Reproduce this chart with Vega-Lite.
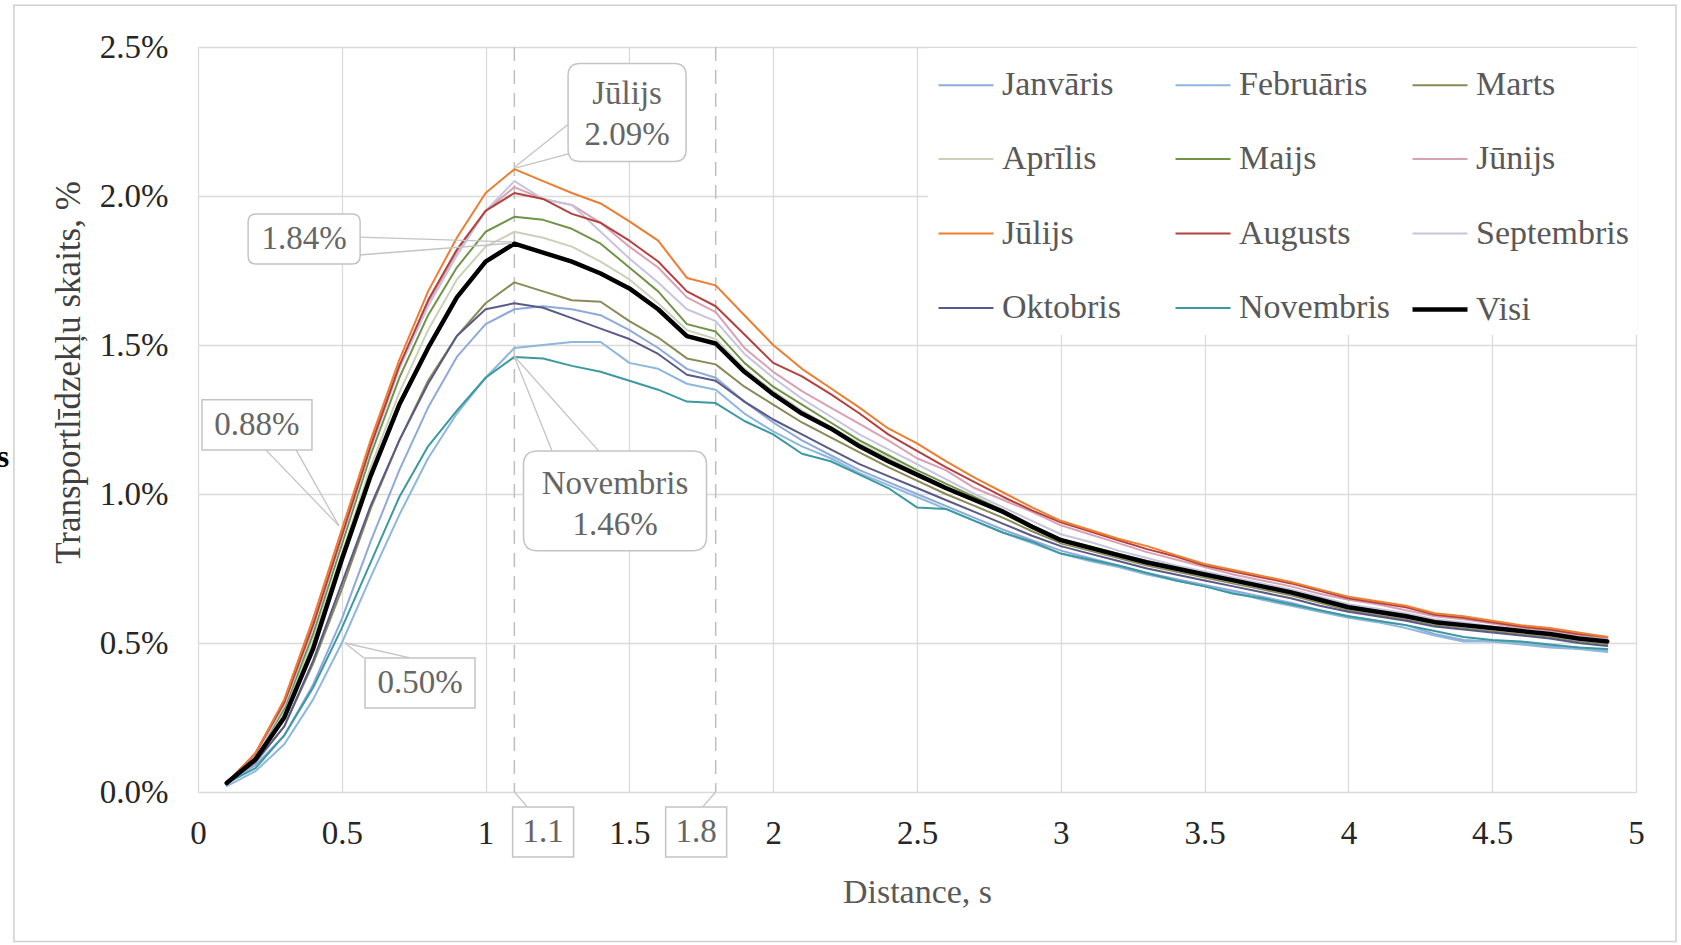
{
"$schema": "https://vega.github.io/schema/vega-lite/v6.json",
"width": 1438, "height": 745,
"autosize": {"type": "none"},
"padding": {"left": 198, "top": 47, "right": 45, "bottom": 153},
"background": "white",
"config": {
  "view": {"stroke": null},
  "font": "Liberation Serif",
  "axis": {"gridColor": "#dadada", "gridWidth": 1.3, "domain": false, "ticks": false, "labelFont": "Liberation Serif", "labelFontSize": 33, "labelColor": "#262626", "titleFont": "Liberation Serif", "titleFontSize": 34, "titleFontWeight": "normal", "titleColor": "#404040", "labelOverlap": false, "labelFlush": false},
  "legend": {"orient": "none", "legendX": 730, "legendY": 1, "columns": 3, "direction": "horizontal", "gridAlign": "all", "columnPadding": 11, "rowPadding": 27.5, "padding": 8, "fillColor": "white", "labelFont": "Liberation Serif", "labelFontSize": 34, "labelColor": "#595959", "symbolType": "stroke", "symbolSize": 3025, "labelOffset": 6, "labelLimit": 0}
},
"layer": [
  {
    "data": {"values": [{"x": -0.64, "x2": 5.139, "y": 2.64, "y2": -0.502}]},
    "mark": {"type": "rect", "fill": "white", "fillOpacity": 0, "stroke": "#cfcfcf", "strokeWidth": 1.5, "clip": false},
    "encoding": {"x": {"field": "x", "type": "quantitative"}, "x2": {"field": "x2"}, "y": {"field": "y", "type": "quantitative"}, "y2": {"field": "y2"}}
  },
  {
    "data": {"values": [{"x": 1.1}, {"x": 1.8}]},
    "mark": {"type": "rule", "stroke": "#bfbfbf", "strokeWidth": 1.5, "strokeDash": [14, 9]},
    "encoding": {"x": {"field": "x", "type": "quantitative"}}
  },
  {
    "data": {"values": [
{"m":"Janvāris","x":0.1,"y":0.03},{"m":"Janvāris","x":0.2,"y":0.09},{"m":"Janvāris","x":0.3,"y":0.19},{"m":"Janvāris","x":0.4,"y":0.36},{"m":"Janvāris","x":0.5,"y":0.58},{"m":"Janvāris","x":0.6,"y":0.84},{"m":"Janvāris","x":0.7,"y":1.08},{"m":"Janvāris","x":0.8,"y":1.29},{"m":"Janvāris","x":0.9,"y":1.46},{"m":"Janvāris","x":1.0,"y":1.57},
{"m":"Janvāris","x":1.1,"y":1.62},{"m":"Janvāris","x":1.2,"y":1.63},{"m":"Janvāris","x":1.3,"y":1.62},{"m":"Janvāris","x":1.4,"y":1.60},{"m":"Janvāris","x":1.5,"y":1.55},{"m":"Janvāris","x":1.6,"y":1.49},{"m":"Janvāris","x":1.7,"y":1.42},{"m":"Janvāris","x":1.8,"y":1.39},{"m":"Janvāris","x":1.9,"y":1.31},{"m":"Janvāris","x":2.0,"y":1.24},
{"m":"Janvāris","x":2.1,"y":1.18},{"m":"Janvāris","x":2.2,"y":1.13},{"m":"Janvāris","x":2.3,"y":1.08},{"m":"Janvāris","x":2.4,"y":1.04},{"m":"Janvāris","x":2.5,"y":1.00},{"m":"Janvāris","x":2.6,"y":0.96},{"m":"Janvāris","x":2.7,"y":0.92},{"m":"Janvāris","x":2.8,"y":0.88},{"m":"Janvāris","x":2.9,"y":0.845},{"m":"Janvāris","x":3.0,"y":0.81},
{"m":"Janvāris","x":3.1,"y":0.785},{"m":"Janvāris","x":3.2,"y":0.76},{"m":"Janvāris","x":3.3,"y":0.735},{"m":"Janvāris","x":3.4,"y":0.715},{"m":"Janvāris","x":3.5,"y":0.695},{"m":"Janvāris","x":3.6,"y":0.675},{"m":"Janvāris","x":3.7,"y":0.655},{"m":"Janvāris","x":3.8,"y":0.635},{"m":"Janvāris","x":3.9,"y":0.61},{"m":"Janvāris","x":4.0,"y":0.59},
{"m":"Janvāris","x":4.1,"y":0.575},{"m":"Janvāris","x":4.2,"y":0.56},{"m":"Janvāris","x":4.3,"y":0.53},{"m":"Janvāris","x":4.4,"y":0.51},{"m":"Janvāris","x":4.5,"y":0.505},{"m":"Janvāris","x":4.6,"y":0.50},{"m":"Janvāris","x":4.7,"y":0.49},{"m":"Janvāris","x":4.8,"y":0.485},{"m":"Janvāris","x":4.9,"y":0.475},
{"m":"Februāris","x":0.1,"y":0.02},{"m":"Februāris","x":0.2,"y":0.07},{"m":"Februāris","x":0.3,"y":0.16},{"m":"Februāris","x":0.4,"y":0.31},{"m":"Februāris","x":0.5,"y":0.50},{"m":"Februāris","x":0.6,"y":0.72},{"m":"Februāris","x":0.7,"y":0.93},{"m":"Februāris","x":0.8,"y":1.12},{"m":"Februāris","x":0.9,"y":1.27},{"m":"Februāris","x":1.0,"y":1.39},
{"m":"Februāris","x":1.1,"y":1.49},{"m":"Februāris","x":1.2,"y":1.50},{"m":"Februāris","x":1.3,"y":1.51},{"m":"Februāris","x":1.4,"y":1.51},{"m":"Februāris","x":1.5,"y":1.44},{"m":"Februāris","x":1.6,"y":1.42},{"m":"Februāris","x":1.7,"y":1.37},{"m":"Februāris","x":1.8,"y":1.35},{"m":"Februāris","x":1.9,"y":1.27},{"m":"Februāris","x":2.0,"y":1.21},
{"m":"Februāris","x":2.1,"y":1.16},{"m":"Februāris","x":2.2,"y":1.12},{"m":"Februāris","x":2.3,"y":1.07},{"m":"Februāris","x":2.4,"y":1.03},{"m":"Februāris","x":2.5,"y":0.99},{"m":"Februāris","x":2.6,"y":0.95},{"m":"Februāris","x":2.7,"y":0.91},{"m":"Februāris","x":2.8,"y":0.87},{"m":"Februāris","x":2.9,"y":0.835},{"m":"Februāris","x":3.0,"y":0.80},
{"m":"Februāris","x":3.1,"y":0.775},{"m":"Februāris","x":3.2,"y":0.755},{"m":"Februāris","x":3.3,"y":0.73},{"m":"Februāris","x":3.4,"y":0.71},{"m":"Februāris","x":3.5,"y":0.69},{"m":"Februāris","x":3.6,"y":0.67},{"m":"Februāris","x":3.7,"y":0.645},{"m":"Februāris","x":3.8,"y":0.625},{"m":"Februāris","x":3.9,"y":0.605},{"m":"Februāris","x":4.0,"y":0.585},
{"m":"Februāris","x":4.1,"y":0.57},{"m":"Februāris","x":4.2,"y":0.55},{"m":"Februāris","x":4.3,"y":0.525},{"m":"Februāris","x":4.4,"y":0.505},{"m":"Februāris","x":4.5,"y":0.505},{"m":"Februāris","x":4.6,"y":0.495},{"m":"Februāris","x":4.7,"y":0.485},{"m":"Februāris","x":4.8,"y":0.48},{"m":"Februāris","x":4.9,"y":0.47},
{"m":"Marts","x":0.1,"y":0.03},{"m":"Marts","x":0.2,"y":0.10},{"m":"Marts","x":0.3,"y":0.22},{"m":"Marts","x":0.4,"y":0.43},{"m":"Marts","x":0.5,"y":0.68},{"m":"Marts","x":0.6,"y":0.95},{"m":"Marts","x":0.7,"y":1.18},{"m":"Marts","x":0.8,"y":1.38},{"m":"Marts","x":0.9,"y":1.53},{"m":"Marts","x":1.0,"y":1.64},
{"m":"Marts","x":1.1,"y":1.71},{"m":"Marts","x":1.2,"y":1.68},{"m":"Marts","x":1.3,"y":1.65},{"m":"Marts","x":1.4,"y":1.645},{"m":"Marts","x":1.5,"y":1.58},{"m":"Marts","x":1.6,"y":1.525},{"m":"Marts","x":1.7,"y":1.455},{"m":"Marts","x":1.8,"y":1.435},{"m":"Marts","x":1.9,"y":1.36},{"m":"Marts","x":2.0,"y":1.30},
{"m":"Marts","x":2.1,"y":1.24},{"m":"Marts","x":2.2,"y":1.19},{"m":"Marts","x":2.3,"y":1.14},{"m":"Marts","x":2.4,"y":1.09},{"m":"Marts","x":2.5,"y":1.045},{"m":"Marts","x":2.6,"y":1.00},{"m":"Marts","x":2.7,"y":0.96},{"m":"Marts","x":2.8,"y":0.92},{"m":"Marts","x":2.9,"y":0.875},{"m":"Marts","x":3.0,"y":0.835},
{"m":"Marts","x":3.1,"y":0.81},{"m":"Marts","x":3.2,"y":0.785},{"m":"Marts","x":3.3,"y":0.76},{"m":"Marts","x":3.4,"y":0.74},{"m":"Marts","x":3.5,"y":0.72},{"m":"Marts","x":3.6,"y":0.70},{"m":"Marts","x":3.7,"y":0.68},{"m":"Marts","x":3.8,"y":0.66},{"m":"Marts","x":3.9,"y":0.635},{"m":"Marts","x":4.0,"y":0.61},
{"m":"Marts","x":4.1,"y":0.595},{"m":"Marts","x":4.2,"y":0.58},{"m":"Marts","x":4.3,"y":0.56},{"m":"Marts","x":4.4,"y":0.55},{"m":"Marts","x":4.5,"y":0.54},{"m":"Marts","x":4.6,"y":0.53},{"m":"Marts","x":4.7,"y":0.52},{"m":"Marts","x":4.8,"y":0.505},{"m":"Marts","x":4.9,"y":0.495},
{"m":"Aprīlis","x":0.1,"y":0.03},{"m":"Aprīlis","x":0.2,"y":0.12},{"m":"Aprīlis","x":0.3,"y":0.27},{"m":"Aprīlis","x":0.4,"y":0.51},{"m":"Aprīlis","x":0.5,"y":0.80},{"m":"Aprīlis","x":0.6,"y":1.09},{"m":"Aprīlis","x":0.7,"y":1.34},{"m":"Aprīlis","x":0.8,"y":1.55},{"m":"Aprīlis","x":0.9,"y":1.72},{"m":"Aprīlis","x":1.0,"y":1.83},
{"m":"Aprīlis","x":1.1,"y":1.88},{"m":"Aprīlis","x":1.2,"y":1.86},{"m":"Aprīlis","x":1.3,"y":1.83},{"m":"Aprīlis","x":1.4,"y":1.78},{"m":"Aprīlis","x":1.5,"y":1.72},{"m":"Aprīlis","x":1.6,"y":1.64},{"m":"Aprīlis","x":1.7,"y":1.55},{"m":"Aprīlis","x":1.8,"y":1.52},{"m":"Aprīlis","x":1.9,"y":1.42},{"m":"Aprīlis","x":2.0,"y":1.345},
{"m":"Aprīlis","x":2.1,"y":1.28},{"m":"Aprīlis","x":2.2,"y":1.225},{"m":"Aprīlis","x":2.3,"y":1.17},{"m":"Aprīlis","x":2.4,"y":1.12},{"m":"Aprīlis","x":2.5,"y":1.07},{"m":"Aprīlis","x":2.6,"y":1.025},{"m":"Aprīlis","x":2.7,"y":0.98},{"m":"Aprīlis","x":2.8,"y":0.935},{"m":"Aprīlis","x":2.9,"y":0.885},{"m":"Aprīlis","x":3.0,"y":0.84},
{"m":"Aprīlis","x":3.1,"y":0.815},{"m":"Aprīlis","x":3.2,"y":0.79},{"m":"Aprīlis","x":3.3,"y":0.765},{"m":"Aprīlis","x":3.4,"y":0.745},{"m":"Aprīlis","x":3.5,"y":0.725},{"m":"Aprīlis","x":3.6,"y":0.705},{"m":"Aprīlis","x":3.7,"y":0.685},{"m":"Aprīlis","x":3.8,"y":0.665},{"m":"Aprīlis","x":3.9,"y":0.64},{"m":"Aprīlis","x":4.0,"y":0.615},
{"m":"Aprīlis","x":4.1,"y":0.60},{"m":"Aprīlis","x":4.2,"y":0.585},{"m":"Aprīlis","x":4.3,"y":0.565},{"m":"Aprīlis","x":4.4,"y":0.555},{"m":"Aprīlis","x":4.5,"y":0.545},{"m":"Aprīlis","x":4.6,"y":0.535},{"m":"Aprīlis","x":4.7,"y":0.525},{"m":"Aprīlis","x":4.8,"y":0.51},{"m":"Aprīlis","x":4.9,"y":0.50},
{"m":"Maijs","x":0.1,"y":0.03},{"m":"Maijs","x":0.2,"y":0.12},{"m":"Maijs","x":0.3,"y":0.28},{"m":"Maijs","x":0.4,"y":0.53},{"m":"Maijs","x":0.5,"y":0.83},{"m":"Maijs","x":0.6,"y":1.13},{"m":"Maijs","x":0.7,"y":1.39},{"m":"Maijs","x":0.8,"y":1.60},{"m":"Maijs","x":0.9,"y":1.76},{"m":"Maijs","x":1.0,"y":1.88},
{"m":"Maijs","x":1.1,"y":1.93},{"m":"Maijs","x":1.2,"y":1.92},{"m":"Maijs","x":1.3,"y":1.89},{"m":"Maijs","x":1.4,"y":1.84},{"m":"Maijs","x":1.5,"y":1.76},{"m":"Maijs","x":1.6,"y":1.68},{"m":"Maijs","x":1.7,"y":1.57},{"m":"Maijs","x":1.8,"y":1.545},{"m":"Maijs","x":1.9,"y":1.44},{"m":"Maijs","x":2.0,"y":1.36},
{"m":"Maijs","x":2.1,"y":1.30},{"m":"Maijs","x":2.2,"y":1.24},{"m":"Maijs","x":2.3,"y":1.18},{"m":"Maijs","x":2.4,"y":1.13},{"m":"Maijs","x":2.5,"y":1.08},{"m":"Maijs","x":2.6,"y":1.035},{"m":"Maijs","x":2.7,"y":0.99},{"m":"Maijs","x":2.8,"y":0.945},{"m":"Maijs","x":2.9,"y":0.895},{"m":"Maijs","x":3.0,"y":0.85},
{"m":"Maijs","x":3.1,"y":0.825},{"m":"Maijs","x":3.2,"y":0.80},{"m":"Maijs","x":3.3,"y":0.775},{"m":"Maijs","x":3.4,"y":0.755},{"m":"Maijs","x":3.5,"y":0.735},{"m":"Maijs","x":3.6,"y":0.715},{"m":"Maijs","x":3.7,"y":0.695},{"m":"Maijs","x":3.8,"y":0.675},{"m":"Maijs","x":3.9,"y":0.65},{"m":"Maijs","x":4.0,"y":0.625},
{"m":"Maijs","x":4.1,"y":0.61},{"m":"Maijs","x":4.2,"y":0.595},{"m":"Maijs","x":4.3,"y":0.575},{"m":"Maijs","x":4.4,"y":0.565},{"m":"Maijs","x":4.5,"y":0.55},{"m":"Maijs","x":4.6,"y":0.54},{"m":"Maijs","x":4.7,"y":0.53},{"m":"Maijs","x":4.8,"y":0.515},{"m":"Maijs","x":4.9,"y":0.505},
{"m":"Jūnijs","x":0.1,"y":0.03},{"m":"Jūnijs","x":0.2,"y":0.13},{"m":"Jūnijs","x":0.3,"y":0.31},{"m":"Jūnijs","x":0.4,"y":0.58},{"m":"Jūnijs","x":0.5,"y":0.88},{"m":"Jūnijs","x":0.6,"y":1.17},{"m":"Jūnijs","x":0.7,"y":1.43},{"m":"Jūnijs","x":0.8,"y":1.64},{"m":"Jūnijs","x":0.9,"y":1.81},{"m":"Jūnijs","x":1.0,"y":1.95},
{"m":"Jūnijs","x":1.1,"y":2.03},{"m":"Jūnijs","x":1.2,"y":1.99},{"m":"Jūnijs","x":1.3,"y":1.97},{"m":"Jūnijs","x":1.4,"y":1.91},{"m":"Jūnijs","x":1.5,"y":1.83},{"m":"Jūnijs","x":1.6,"y":1.76},{"m":"Jūnijs","x":1.7,"y":1.66},{"m":"Jūnijs","x":1.8,"y":1.61},{"m":"Jūnijs","x":1.9,"y":1.49},{"m":"Jūnijs","x":2.0,"y":1.41},
{"m":"Jūnijs","x":2.1,"y":1.345},{"m":"Jūnijs","x":2.2,"y":1.29},{"m":"Jūnijs","x":2.3,"y":1.235},{"m":"Jūnijs","x":2.4,"y":1.18},{"m":"Jūnijs","x":2.5,"y":1.12},{"m":"Jūnijs","x":2.6,"y":1.08},{"m":"Jūnijs","x":2.7,"y":1.02},{"m":"Jūnijs","x":2.8,"y":0.98},{"m":"Jūnijs","x":2.9,"y":0.94},{"m":"Jūnijs","x":3.0,"y":0.895},
{"m":"Jūnijs","x":3.1,"y":0.865},{"m":"Jūnijs","x":3.2,"y":0.835},{"m":"Jūnijs","x":3.3,"y":0.805},{"m":"Jūnijs","x":3.4,"y":0.78},{"m":"Jūnijs","x":3.5,"y":0.755},{"m":"Jūnijs","x":3.6,"y":0.73},{"m":"Jūnijs","x":3.7,"y":0.71},{"m":"Jūnijs","x":3.8,"y":0.69},{"m":"Jūnijs","x":3.9,"y":0.665},{"m":"Jūnijs","x":4.0,"y":0.645},
{"m":"Jūnijs","x":4.1,"y":0.63},{"m":"Jūnijs","x":4.2,"y":0.61},{"m":"Jūnijs","x":4.3,"y":0.59},{"m":"Jūnijs","x":4.4,"y":0.58},{"m":"Jūnijs","x":4.5,"y":0.565},{"m":"Jūnijs","x":4.6,"y":0.55},{"m":"Jūnijs","x":4.7,"y":0.54},{"m":"Jūnijs","x":4.8,"y":0.525},{"m":"Jūnijs","x":4.9,"y":0.515},
{"m":"Septembris","x":0.1,"y":0.03},{"m":"Septembris","x":0.2,"y":0.12},{"m":"Septembris","x":0.3,"y":0.29},{"m":"Septembris","x":0.4,"y":0.55},{"m":"Septembris","x":0.5,"y":0.85},{"m":"Septembris","x":0.6,"y":1.15},{"m":"Septembris","x":0.7,"y":1.42},{"m":"Septembris","x":0.8,"y":1.63},{"m":"Septembris","x":0.9,"y":1.80},{"m":"Septembris","x":1.0,"y":1.95},
{"m":"Septembris","x":1.1,"y":2.05},{"m":"Septembris","x":1.2,"y":1.99},{"m":"Septembris","x":1.3,"y":1.97},{"m":"Septembris","x":1.4,"y":1.88},{"m":"Septembris","x":1.5,"y":1.79},{"m":"Septembris","x":1.6,"y":1.71},{"m":"Septembris","x":1.7,"y":1.62},{"m":"Septembris","x":1.8,"y":1.58},{"m":"Septembris","x":1.9,"y":1.47},{"m":"Septembris","x":2.0,"y":1.39},
{"m":"Septembris","x":2.1,"y":1.32},{"m":"Septembris","x":2.2,"y":1.26},{"m":"Septembris","x":2.3,"y":1.20},{"m":"Septembris","x":2.4,"y":1.15},{"m":"Septembris","x":2.5,"y":1.10},{"m":"Septembris","x":2.6,"y":1.05},{"m":"Septembris","x":2.7,"y":1.00},{"m":"Septembris","x":2.8,"y":0.955},{"m":"Septembris","x":2.9,"y":0.91},{"m":"Septembris","x":3.0,"y":0.865},
{"m":"Septembris","x":3.1,"y":0.84},{"m":"Septembris","x":3.2,"y":0.81},{"m":"Septembris","x":3.3,"y":0.785},{"m":"Septembris","x":3.4,"y":0.76},{"m":"Septembris","x":3.5,"y":0.74},{"m":"Septembris","x":3.6,"y":0.72},{"m":"Septembris","x":3.7,"y":0.70},{"m":"Septembris","x":3.8,"y":0.68},{"m":"Septembris","x":3.9,"y":0.655},{"m":"Septembris","x":4.0,"y":0.63},
{"m":"Septembris","x":4.1,"y":0.615},{"m":"Septembris","x":4.2,"y":0.60},{"m":"Septembris","x":4.3,"y":0.58},{"m":"Septembris","x":4.4,"y":0.57},{"m":"Septembris","x":4.5,"y":0.555},{"m":"Septembris","x":4.6,"y":0.545},{"m":"Septembris","x":4.7,"y":0.535},{"m":"Septembris","x":4.8,"y":0.52},{"m":"Septembris","x":4.9,"y":0.51},
{"m":"Oktobris","x":0.1,"y":0.03},{"m":"Oktobris","x":0.2,"y":0.10},{"m":"Oktobris","x":0.3,"y":0.22},{"m":"Oktobris","x":0.4,"y":0.44},{"m":"Oktobris","x":0.5,"y":0.70},{"m":"Oktobris","x":0.6,"y":0.96},{"m":"Oktobris","x":0.7,"y":1.18},{"m":"Oktobris","x":0.8,"y":1.37},{"m":"Oktobris","x":0.9,"y":1.53},{"m":"Oktobris","x":1.0,"y":1.62},
{"m":"Oktobris","x":1.1,"y":1.64},{"m":"Oktobris","x":1.2,"y":1.625},{"m":"Oktobris","x":1.3,"y":1.59},{"m":"Oktobris","x":1.4,"y":1.555},{"m":"Oktobris","x":1.5,"y":1.52},{"m":"Oktobris","x":1.6,"y":1.47},{"m":"Oktobris","x":1.7,"y":1.40},{"m":"Oktobris","x":1.8,"y":1.38},{"m":"Oktobris","x":1.9,"y":1.31},{"m":"Oktobris","x":2.0,"y":1.25},
{"m":"Oktobris","x":2.1,"y":1.20},{"m":"Oktobris","x":2.2,"y":1.15},{"m":"Oktobris","x":2.3,"y":1.10},{"m":"Oktobris","x":2.4,"y":1.06},{"m":"Oktobris","x":2.5,"y":1.02},{"m":"Oktobris","x":2.6,"y":0.98},{"m":"Oktobris","x":2.7,"y":0.94},{"m":"Oktobris","x":2.8,"y":0.90},{"m":"Oktobris","x":2.9,"y":0.86},{"m":"Oktobris","x":3.0,"y":0.825},
{"m":"Oktobris","x":3.1,"y":0.80},{"m":"Oktobris","x":3.2,"y":0.775},{"m":"Oktobris","x":3.3,"y":0.75},{"m":"Oktobris","x":3.4,"y":0.73},{"m":"Oktobris","x":3.5,"y":0.71},{"m":"Oktobris","x":3.6,"y":0.69},{"m":"Oktobris","x":3.7,"y":0.67},{"m":"Oktobris","x":3.8,"y":0.65},{"m":"Oktobris","x":3.9,"y":0.625},{"m":"Oktobris","x":4.0,"y":0.605},
{"m":"Oktobris","x":4.1,"y":0.59},{"m":"Oktobris","x":4.2,"y":0.575},{"m":"Oktobris","x":4.3,"y":0.555},{"m":"Oktobris","x":4.4,"y":0.545},{"m":"Oktobris","x":4.5,"y":0.535},{"m":"Oktobris","x":4.6,"y":0.525},{"m":"Oktobris","x":4.7,"y":0.515},{"m":"Oktobris","x":4.8,"y":0.50},{"m":"Oktobris","x":4.9,"y":0.49},
{"m":"Novembris","x":0.1,"y":0.03},{"m":"Novembris","x":0.2,"y":0.08},{"m":"Novembris","x":0.3,"y":0.19},{"m":"Novembris","x":0.4,"y":0.35},{"m":"Novembris","x":0.5,"y":0.55},{"m":"Novembris","x":0.6,"y":0.77},{"m":"Novembris","x":0.7,"y":0.99},{"m":"Novembris","x":0.8,"y":1.16},{"m":"Novembris","x":0.9,"y":1.28},{"m":"Novembris","x":1.0,"y":1.39},
{"m":"Novembris","x":1.1,"y":1.46},{"m":"Novembris","x":1.2,"y":1.455},{"m":"Novembris","x":1.3,"y":1.43},{"m":"Novembris","x":1.4,"y":1.41},{"m":"Novembris","x":1.5,"y":1.38},{"m":"Novembris","x":1.6,"y":1.35},{"m":"Novembris","x":1.7,"y":1.31},{"m":"Novembris","x":1.8,"y":1.305},{"m":"Novembris","x":1.9,"y":1.245},{"m":"Novembris","x":2.0,"y":1.20},
{"m":"Novembris","x":2.1,"y":1.135},{"m":"Novembris","x":2.2,"y":1.11},{"m":"Novembris","x":2.3,"y":1.065},{"m":"Novembris","x":2.4,"y":1.02},{"m":"Novembris","x":2.5,"y":0.955},{"m":"Novembris","x":2.6,"y":0.95},{"m":"Novembris","x":2.7,"y":0.91},{"m":"Novembris","x":2.8,"y":0.87},{"m":"Novembris","x":2.9,"y":0.84},{"m":"Novembris","x":3.0,"y":0.80},
{"m":"Novembris","x":3.1,"y":0.78},{"m":"Novembris","x":3.2,"y":0.76},{"m":"Novembris","x":3.3,"y":0.735},{"m":"Novembris","x":3.4,"y":0.71},{"m":"Novembris","x":3.5,"y":0.69},{"m":"Novembris","x":3.6,"y":0.665},{"m":"Novembris","x":3.7,"y":0.65},{"m":"Novembris","x":3.8,"y":0.63},{"m":"Novembris","x":3.9,"y":0.61},{"m":"Novembris","x":4.0,"y":0.59},
{"m":"Novembris","x":4.1,"y":0.575},{"m":"Novembris","x":4.2,"y":0.56},{"m":"Novembris","x":4.3,"y":0.54},{"m":"Novembris","x":4.4,"y":0.52},{"m":"Novembris","x":4.5,"y":0.51},{"m":"Novembris","x":4.6,"y":0.505},{"m":"Novembris","x":4.7,"y":0.495},{"m":"Novembris","x":4.8,"y":0.485},{"m":"Novembris","x":4.9,"y":0.48},
{"m":"Augusts","x":0.1,"y":0.03},{"m":"Augusts","x":0.2,"y":0.13},{"m":"Augusts","x":0.3,"y":0.30},{"m":"Augusts","x":0.4,"y":0.56},{"m":"Augusts","x":0.5,"y":0.86},{"m":"Augusts","x":0.6,"y":1.16},{"m":"Augusts","x":0.7,"y":1.43},{"m":"Augusts","x":0.8,"y":1.65},{"m":"Augusts","x":0.9,"y":1.82},{"m":"Augusts","x":1.0,"y":1.95},
{"m":"Augusts","x":1.1,"y":2.01},{"m":"Augusts","x":1.2,"y":1.99},{"m":"Augusts","x":1.3,"y":1.94},{"m":"Augusts","x":1.4,"y":1.91},{"m":"Augusts","x":1.5,"y":1.85},{"m":"Augusts","x":1.6,"y":1.78},{"m":"Augusts","x":1.7,"y":1.68},{"m":"Augusts","x":1.8,"y":1.63},{"m":"Augusts","x":1.9,"y":1.535},{"m":"Augusts","x":2.0,"y":1.44},
{"m":"Augusts","x":2.1,"y":1.395},{"m":"Augusts","x":2.2,"y":1.335},{"m":"Augusts","x":2.3,"y":1.27},{"m":"Augusts","x":2.4,"y":1.20},{"m":"Augusts","x":2.5,"y":1.145},{"m":"Augusts","x":2.6,"y":1.09},{"m":"Augusts","x":2.7,"y":1.04},{"m":"Augusts","x":2.8,"y":0.99},{"m":"Augusts","x":2.9,"y":0.945},{"m":"Augusts","x":3.0,"y":0.905},
{"m":"Augusts","x":3.1,"y":0.875},{"m":"Augusts","x":3.2,"y":0.845},{"m":"Augusts","x":3.3,"y":0.815},{"m":"Augusts","x":3.4,"y":0.79},{"m":"Augusts","x":3.5,"y":0.76},{"m":"Augusts","x":3.6,"y":0.74},{"m":"Augusts","x":3.7,"y":0.72},{"m":"Augusts","x":3.8,"y":0.70},{"m":"Augusts","x":3.9,"y":0.675},{"m":"Augusts","x":4.0,"y":0.65},
{"m":"Augusts","x":4.1,"y":0.635},{"m":"Augusts","x":4.2,"y":0.62},{"m":"Augusts","x":4.3,"y":0.595},{"m":"Augusts","x":4.4,"y":0.585},{"m":"Augusts","x":4.5,"y":0.57},{"m":"Augusts","x":4.6,"y":0.555},{"m":"Augusts","x":4.7,"y":0.545},{"m":"Augusts","x":4.8,"y":0.53},{"m":"Augusts","x":4.9,"y":0.52},
{"m":"Jūlijs","x":0.1,"y":0.03},{"m":"Jūlijs","x":0.2,"y":0.13},{"m":"Jūlijs","x":0.3,"y":0.31},{"m":"Jūlijs","x":0.4,"y":0.58},{"m":"Jūlijs","x":0.5,"y":0.88},{"m":"Jūlijs","x":0.6,"y":1.18},{"m":"Jūlijs","x":0.7,"y":1.45},{"m":"Jūlijs","x":0.8,"y":1.68},{"m":"Jūlijs","x":0.9,"y":1.86},{"m":"Jūlijs","x":1.0,"y":2.01},
{"m":"Jūlijs","x":1.1,"y":2.09},{"m":"Jūlijs","x":1.2,"y":2.05},{"m":"Jūlijs","x":1.3,"y":2.01},{"m":"Jūlijs","x":1.4,"y":1.975},{"m":"Jūlijs","x":1.5,"y":1.915},{"m":"Jūlijs","x":1.6,"y":1.85},{"m":"Jūlijs","x":1.7,"y":1.725},{"m":"Jūlijs","x":1.8,"y":1.70},{"m":"Jūlijs","x":1.9,"y":1.60},{"m":"Jūlijs","x":2.0,"y":1.50},
{"m":"Jūlijs","x":2.1,"y":1.42},{"m":"Jūlijs","x":2.2,"y":1.355},{"m":"Jūlijs","x":2.3,"y":1.29},{"m":"Jūlijs","x":2.4,"y":1.22},{"m":"Jūlijs","x":2.5,"y":1.17},{"m":"Jūlijs","x":2.6,"y":1.11},{"m":"Jūlijs","x":2.7,"y":1.055},{"m":"Jūlijs","x":2.8,"y":1.005},{"m":"Jūlijs","x":2.9,"y":0.955},{"m":"Jūlijs","x":3.0,"y":0.91},
{"m":"Jūlijs","x":3.1,"y":0.88},{"m":"Jūlijs","x":3.2,"y":0.85},{"m":"Jūlijs","x":3.3,"y":0.825},{"m":"Jūlijs","x":3.4,"y":0.795},{"m":"Jūlijs","x":3.5,"y":0.765},{"m":"Jūlijs","x":3.6,"y":0.745},{"m":"Jūlijs","x":3.7,"y":0.725},{"m":"Jūlijs","x":3.8,"y":0.705},{"m":"Jūlijs","x":3.9,"y":0.68},{"m":"Jūlijs","x":4.0,"y":0.655},
{"m":"Jūlijs","x":4.1,"y":0.64},{"m":"Jūlijs","x":4.2,"y":0.625},{"m":"Jūlijs","x":4.3,"y":0.60},{"m":"Jūlijs","x":4.4,"y":0.59},{"m":"Jūlijs","x":4.5,"y":0.575},{"m":"Jūlijs","x":4.6,"y":0.56},{"m":"Jūlijs","x":4.7,"y":0.55},{"m":"Jūlijs","x":4.8,"y":0.535},{"m":"Jūlijs","x":4.9,"y":0.52},
{"m":"Visi","x":0.1,"y":0.03},{"m":"Visi","x":0.2,"y":0.11},{"m":"Visi","x":0.3,"y":0.25},{"m":"Visi","x":0.4,"y":0.48},{"m":"Visi","x":0.5,"y":0.78},{"m":"Visi","x":0.6,"y":1.06},{"m":"Visi","x":0.7,"y":1.30},{"m":"Visi","x":0.8,"y":1.49},{"m":"Visi","x":0.9,"y":1.66},{"m":"Visi","x":1.0,"y":1.78},
{"m":"Visi","x":1.1,"y":1.84},{"m":"Visi","x":1.2,"y":1.81},{"m":"Visi","x":1.3,"y":1.78},{"m":"Visi","x":1.4,"y":1.74},{"m":"Visi","x":1.5,"y":1.69},{"m":"Visi","x":1.6,"y":1.62},{"m":"Visi","x":1.7,"y":1.53},{"m":"Visi","x":1.8,"y":1.505},{"m":"Visi","x":1.9,"y":1.41},{"m":"Visi","x":2.0,"y":1.335},
{"m":"Visi","x":2.1,"y":1.27},{"m":"Visi","x":2.2,"y":1.22},{"m":"Visi","x":2.3,"y":1.16},{"m":"Visi","x":2.4,"y":1.11},{"m":"Visi","x":2.5,"y":1.065},{"m":"Visi","x":2.6,"y":1.02},{"m":"Visi","x":2.7,"y":0.98},{"m":"Visi","x":2.8,"y":0.94},{"m":"Visi","x":2.9,"y":0.89},{"m":"Visi","x":3.0,"y":0.845},
{"m":"Visi","x":3.1,"y":0.82},{"m":"Visi","x":3.2,"y":0.795},{"m":"Visi","x":3.3,"y":0.77},{"m":"Visi","x":3.4,"y":0.75},{"m":"Visi","x":3.5,"y":0.73},{"m":"Visi","x":3.6,"y":0.71},{"m":"Visi","x":3.7,"y":0.69},{"m":"Visi","x":3.8,"y":0.67},{"m":"Visi","x":3.9,"y":0.645},{"m":"Visi","x":4.0,"y":0.62},
{"m":"Visi","x":4.1,"y":0.605},{"m":"Visi","x":4.2,"y":0.59},{"m":"Visi","x":4.3,"y":0.57},{"m":"Visi","x":4.4,"y":0.56},{"m":"Visi","x":4.5,"y":0.55},{"m":"Visi","x":4.6,"y":0.54},{"m":"Visi","x":4.7,"y":0.53},{"m":"Visi","x":4.8,"y":0.515},{"m":"Visi","x":4.9,"y":0.505}
    ]},
    "mark": {"type": "line", "strokeJoin": "round", "strokeCap": "round", "clip": true},
    "encoding": {
      "x": {"field": "x", "type": "quantitative", "scale": {"domain": [0, 5], "nice": false, "zero": false},
        "axis": {"values": [0, 0.5, 1, 1.5, 2, 2.5, 3, 3.5, 4, 4.5, 5], "format": "~g", "labelPadding": 25, "title": "Distance, s", "titlePadding": 25, "titleColor": "#595959"}},
      "y": {"field": "y", "type": "quantitative", "scale": {"domain": [0, 2.5], "nice": false},
        "axis": {"values": [0, 0.5, 1, 1.5, 2, 2.5], "labelExpr": "format(datum.value, '.1f') + '%'", "labelPadding": 30, "title": "Transportlīdzekļu skaits, %", "titleFontSize": 35, "titleX": -130, "titleY": 325, "titleAngle": 270, "titleBaseline": "middle", "titleAlign": "center", "titleAnchor": null}},
      "color": {"field": "m", "type": "nominal",
        "scale": {"domain": ["Janvāris", "Februāris", "Marts", "Aprīlis", "Maijs", "Jūnijs", "Jūlijs", "Augusts", "Septembris", "Oktobris", "Novembris", "Visi"],
                  "range": ["#8eaad8", "#8db7dc", "#8a8a58", "#c9d2b6", "#6f9448", "#d9a1b4", "#ed7d31", "#b3413d", "#c6c4de", "#5a5a88", "#3a9aa0", "#000000"]},
        "legend": {"title": null}},
      "strokeWidth": {"field": "m", "type": "nominal",
        "scale": {"type": "ordinal", "domain": ["Janvāris", "Februāris", "Marts", "Aprīlis", "Maijs", "Jūnijs", "Jūlijs", "Augusts", "Septembris", "Oktobris", "Novembris", "Visi"],
                  "range": [2, 2, 2, 2, 2, 2, 2, 2, 2, 2, 2, 4.5]},
        "legend": {"title": null}}
    }
  },
  {
    "data": {"values": [
      {"x": 1.293, "y": 2.245, "x2": 1.102, "y2": 2.097},
      {"x": 1.363, "y": 2.161, "x2": 1.106, "y2": 2.094},
      {"x": 0.560, "y": 1.862, "x2": 1.092, "y2": 1.846},
      {"x": 0.560, "y": 1.802, "x2": 1.092, "y2": 1.842},
      {"x": 0.236, "y": 1.148, "x2": 0.490, "y2": 0.893},
      {"x": 0.341, "y": 1.148, "x2": 0.490, "y2": 0.893},
      {"x": 0.577, "y": 0.450, "x2": 0.511, "y2": 0.500},
      {"x": 0.737, "y": 0.450, "x2": 0.511, "y2": 0.500},
      {"x": 1.231, "y": 1.144, "x2": 1.099, "y2": 1.463},
      {"x": 1.394, "y": 1.144, "x2": 1.099, "y2": 1.463},
      {"x": 1.1, "y": 0, "x2": 1.154, "y2": -0.06},
      {"x": 1.8, "y": 0, "x2": 1.746, "y2": -0.06}
    ]},
    "mark": {"type": "rule", "stroke": "#c4c4c4", "strokeWidth": 1.3, "clip": false},
    "encoding": {"x": {"field": "x", "type": "quantitative"}, "y": {"field": "y", "type": "quantitative"}, "x2": {"field": "x2"}, "y2": {"field": "y2"}}
  },
  {
    "data": {"values": [{"x": 0.205, "y": 1.232}, {"x": 0.772, "y": 0.366}]},
    "mark": {"type": "point", "shape": "M-1,-0.455H1V0.455H-1Z", "size": 12100, "filled": true, "fill": "white", "stroke": "#c4c4c4", "strokeWidth": 1.5, "opacity": 1, "clip": false},
    "encoding": {"x": {"field": "x", "type": "quantitative"}, "y": {"field": "y", "type": "quantitative"}}
  },
  {
    "data": {"values": [{"x": 1.2, "y": -0.134}, {"x": 1.732, "y": -0.134}]},
    "mark": {"type": "point", "shape": "M-1,-0.82H1V0.82H-1Z", "size": 3721, "filled": true, "fill": "white", "stroke": "#c4c4c4", "strokeWidth": 1.5, "opacity": 1, "clip": false},
    "encoding": {"x": {"field": "x", "type": "quantitative"}, "y": {"field": "y", "type": "quantitative"}}
  },
  {
    "data": {"values": [{"x": 0.369, "y": 1.856}]},
    "mark": {"type": "point", "shape": "M-0.857,-0.446H0.857Q1,-0.446 1,-0.303V0.303Q1,0.446 0.857,0.446H-0.857Q-1,0.446 -1,0.303V-0.303Q-1,-0.446 -0.857,-0.446Z", "size": 12544, "filled": true, "fill": "white", "stroke": "#c4c4c4", "strokeWidth": 1.5, "opacity": 1, "clip": false},
    "encoding": {"x": {"field": "x", "type": "quantitative"}, "y": {"field": "y", "type": "quantitative"}}
  },
  {
    "data": {"values": [{"x": 1.492, "y": 2.28}]},
    "mark": {"type": "point", "shape": "M-0.797,-0.831H0.797Q1,-0.831 1,-0.628V0.628Q1,0.831 0.797,0.831H-0.797Q-1,0.831 -1,0.628V-0.628Q-1,-0.831 -0.797,-0.831Z", "size": 13924, "filled": true, "fill": "white", "stroke": "#c4c4c4", "strokeWidth": 1.5, "opacity": 1, "clip": false},
    "encoding": {"x": {"field": "x", "type": "quantitative"}, "y": {"field": "y", "type": "quantitative"}}
  },
  {
    "data": {"values": [{"x": 1.45, "y": 0.977}]},
    "mark": {"type": "point", "shape": "M-0.847,-0.546H0.847Q1,-0.546 1,-0.393V0.393Q1,0.546 0.847,0.546H-0.847Q-1,0.546 -1,0.393V-0.393Q-1,-0.546 -0.847,-0.546Z", "size": 33489, "filled": true, "fill": "white", "stroke": "#c4c4c4", "strokeWidth": 1.5, "opacity": 1, "clip": false},
    "encoding": {"x": {"field": "x", "type": "quantitative"}, "y": {"field": "y", "type": "quantitative"}}
  },
  {
    "data": {"values": [
      {"x": 1.492, "y": 2.342, "t": "Jūlijs|2.09%"},
      {"x": 0.369, "y": 1.856, "t": "1.84%"},
      {"x": 0.205, "y": 1.232, "t": "0.88%"},
      {"x": 0.772, "y": 0.366, "t": "0.50%"},
      {"x": 1.45, "y": 1.034, "t": "Novembris|1.46%"},
      {"x": 1.2, "y": -0.134, "t": "1.1"},
      {"x": 1.732, "y": -0.134, "t": "1.8"}
    ]},
    "mark": {"type": "text", "font": "Liberation Serif", "fontSize": 33, "fill": "#666666", "align": "center", "baseline": "middle", "lineBreak": "|", "lineHeight": 41, "clip": false},
    "encoding": {"x": {"field": "x", "type": "quantitative"}, "y": {"field": "y", "type": "quantitative"}, "text": {"field": "t"}}
  },
  {
    "data": {"values": [{"x": -0.678, "y": 1.124, "t": "s"}]},
    "mark": {"type": "text", "font": "Liberation Serif", "fontSize": 32, "fontWeight": "bold", "fill": "#000000", "align": "center", "baseline": "middle", "clip": false},
    "encoding": {"x": {"field": "x", "type": "quantitative"}, "y": {"field": "y", "type": "quantitative"}, "text": {"field": "t"}}
  }
]
}
